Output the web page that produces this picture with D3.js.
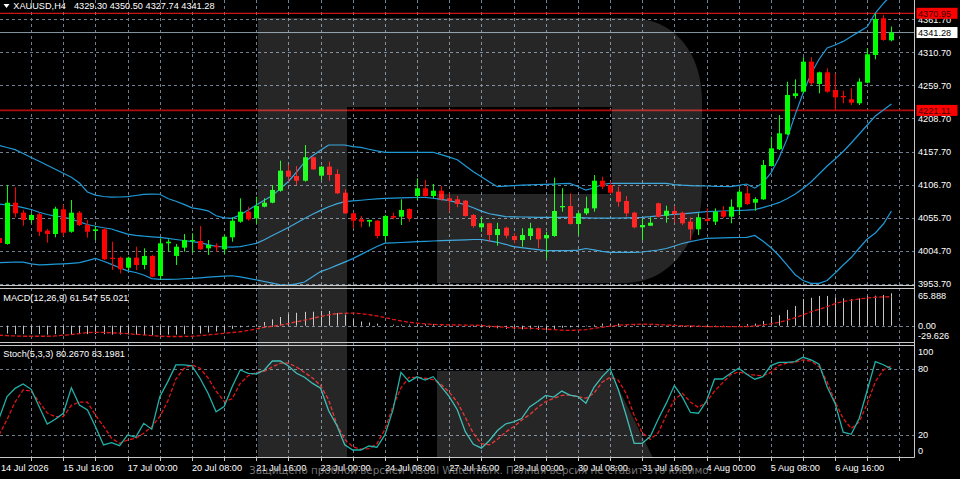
<!DOCTYPE html>
<html>
<head>
<meta charset="utf-8">
<script src="https://cdn.jsdelivr.net/npm/d3@7"></script>
<style>
  body { margin: 0; background: #000; }
  svg { display: block; }
  text { font-family: "Liberation Sans", Arial, sans-serif; font-size: 9.2px; fill: #fff; }
</style>
</head>
<body>
<svg id="chart" width="960" height="479"></svg>
<script>
// ——— XAUUSD H4 candles (112 bars, 14 Jul 08:00 .. 7 Aug) ———
const OPEN = [4024.2,4015.0,4078.7,4063.3,4052.0,4060.8,4035.5,4030.4,4068.5,4033.9,
  4063.3,4044.3,4035.0,4037.6,3993.8,3993.8,3978.4,3993.8,3982.6,3996.5,
  3965.6,4016.0,3996.5,4009.3,4019.6,4019.6,4008.3,4012.3,4006.8,4025.3,
  4049.4,4064.8,4054.6,4072.5,4078.7,4097.2,4128.1,4119.9,4112.6,4148.8,
  4120.4,4134.3,4123.0,4094.1,4062.3,4053.1,4049.4,4050.9,4027.3,4058.2,
  4057.1,4069.0,4089.0,4100.9,4089.0,4097.2,4085.5,4083.9,4081.8,4059.7,
  4040.7,4046.9,4028.8,4040.1,4027.3,4021.1,4027.3,4039.2,4023.7,4027.3,
  4071.6,4073.6,4045.8,4062.3,4070.0,4112.6,4106.0,4095.7,4081.3,4063.3,
  4040.7,4043.2,4077.8,4058.6,4065.9,4063.3,4049.4,4037.6,4053.5,4049.4,
  4065.9,4057.1,4071.6,4093.2,4078.7,4083.9,4135.3,4161.1,4184.2,4243.3,
  4250.0,4296.3,4261.9,4279.9,4252.6,4243.3,4238.3,4232.1,4263.9,4306.6,
  4363.3,4329.30];
const HIGH = [4028.9,4106.0,4102.5,4067.4,4062.3,4063.3,4038.1,4072.5,4075.1,4082.9,
  4065.9,4052.0,4042.7,4039.2,4018.5,3995.4,3995.4,4010.8,4008.3,3998.0,
  4023.7,4022.2,4015.0,4030.4,4031.5,4042.7,4021.1,4016.0,4028.8,4056.2,
  4085.5,4072.5,4088.0,4085.5,4106.0,4143.5,4136.9,4135.3,4167.7,4149.7,
  4135.3,4142.0,4130.2,4099.4,4063.3,4058.2,4052.5,4052.0,4059.7,4063.3,
  4083.9,4070.0,4116.3,4113.7,4107.5,4104.5,4093.2,4089.0,4082.9,4061.3,
  4056.2,4047.8,4047.8,4041.7,4031.5,4039.2,4047.8,4040.1,4033.9,4117.3,
  4100.9,4093.2,4064.8,4088.0,4121.4,4118.8,4111.1,4103.4,4089.0,4064.8,
  4054.6,4056.2,4078.7,4074.1,4073.6,4064.8,4056.2,4062.3,4070.0,4070.0,
  4073.6,4083.9,4099.4,4104.5,4087.0,4144.6,4180.5,4214.0,4265.4,4269.1,
  4303.1,4303.1,4280.9,4286.1,4278.4,4251.5,4255.2,4270.7,4317.0,4370.95,
  4368.4,4350.50];
const LOW = [4011.9,4014.0,4056.2,4043.2,4046.9,4027.3,4017.0,4025.3,4027.3,4032.4,
  4042.7,4024.7,4021.1,3990.3,3974.8,3969.7,3974.8,3974.8,3975.9,3963.5,
  3959.4,4003.1,3982.6,4003.1,4001.5,4006.0,3998.0,4003.1,3999.5,4018.5,
  4047.8,4050.9,4045.8,4071.6,4077.8,4095.7,4111.1,4106.0,4111.1,4129.2,
  4113.7,4112.6,4092.1,4061.5,4039.2,4040.7,4041.7,4023.7,4020.1,4053.1,
  4044.3,4049.4,4082.9,4088.0,4085.5,4081.8,4064.8,4071.6,4057.1,4040.1,
  4033.9,4018.5,4012.3,4023.7,4016.0,4010.8,4021.1,4008.3,3992.9,4026.2,
  4064.8,4045.0,4028.8,4059.7,4064.8,4099.4,4092.1,4072.5,4057.1,4039.2,
  4021.1,4042.7,4056.2,4047.8,4047.8,4044.3,4020.1,4028.8,4049.4,4044.3,
  4054.6,4046.9,4059.7,4075.1,4066.3,4082.9,4134.3,4160.0,4183.2,4239.8,
  4247.5,4260.3,4247.5,4248.4,4221.11,4232.1,4229.5,4229.5,4263.0,4300.0,
  4328.7,4327.74];
const CLOSE = [4016.5,4078.7,4062.3,4052.0,4059.7,4033.9,4030.4,4069.4,4032.4,4063.3,
  4044.3,4033.9,4037.6,3991.4,3991.8,3975.9,3993.8,3982.6,3996.5,3964.5,
  4016.0,4018.5,4010.8,4021.1,4021.1,4006.8,4013.4,4009.9,4026.2,4050.9,
  4064.8,4053.1,4073.6,4078.7,4098.3,4128.1,4118.8,4112.6,4148.8,4130.2,
  4134.3,4121.4,4093.2,4062.3,4050.9,4049.4,4052.0,4027.3,4058.2,4055.6,
  4067.4,4054.6,4100.9,4089.0,4097.2,4083.9,4081.3,4076.7,4058.2,4042.7,
  4046.9,4028.8,4038.1,4027.8,4021.1,4028.8,4039.2,4022.2,4028.8,4065.9,
  4073.6,4045.8,4062.3,4070.0,4112.6,4103.4,4094.1,4080.2,4062.3,4040.7,
  4044.3,4047.8,4057.1,4066.3,4061.3,4046.9,4037.6,4056.2,4050.5,4064.8,
  4057.1,4072.5,4095.7,4076.7,4084.4,4136.9,4162.6,4185.8,4244.9,4247.5,
  4296.3,4263.0,4279.9,4250.0,4241.3,4241.3,4233.0,4265.4,4307.7,4362.2,
  4329.8,4341.28];

// ——— Bollinger Bands ———
const BB_UPPER = [4167.0,4163.9,4160.6,4154.6,4148.4,4142.6,4136.4,4130.2,4124.1,4117.9,
  4109.1,4095.2,4090.3,4088.3,4087.2,4087.5,4088.1,4089.8,4091.5,4092.0,
  4091.7,4085.2,4080.9,4076.1,4070.8,4068.7,4066.2,4058.6,4055.4,4054.6,
  4059.9,4067.6,4075.1,4082.4,4089.6,4100.4,4111.4,4125.8,4141.2,4151.1,
  4159.7,4167.7,4167.7,4167.7,4165.1,4164.0,4161.2,4158.6,4156.5,4156.5,
  4156.5,4156.5,4156.5,4156.5,4156.5,4152.8,4149.1,4145.0,4135.8,4126.4,
  4118.7,4110.5,4103.4,4104.3,4105.1,4105.9,4106.3,4106.8,4107.1,4107.5,
  4108.0,4108.5,4103.7,4098.0,4101.4,4106.8,4108.6,4108.6,4108.6,4108.6,
  4108.6,4108.6,4108.6,4108.6,4106.6,4105.7,4105.1,4104.8,4104.5,4104.0,
  4103.7,4103.5,4105.4,4107.5,4101.1,4109.4,4124.2,4147.4,4176.4,4213.9,
  4247.5,4277.6,4300.1,4317.4,4322.1,4327.6,4335.2,4342.7,4350.3,4371.4,
  4386.1,4399.2];
const BB_MID = [4076.7,4075.1,4073.8,4071.1,4068.2,4063.9,4060.5,4057.9,4056.6,4053.5,
  4049.2,4045.0,4042.3,4040.0,4038.1,4034.1,4030.2,4028.2,4027.0,4026.1,
  4025.3,4023.6,4021.9,4020.4,4018.7,4017.0,4013.9,4011.4,4010.3,4010.2,
  4010.8,4013.4,4015.9,4021.6,4028.1,4034.2,4040.4,4047.4,4054.3,4060.8,
  4066.8,4072.5,4076.8,4080.4,4081.5,4082.5,4083.6,4084.7,4085.5,4085.8,
  4086.1,4086.6,4086.7,4087.0,4085.6,4083.9,4081.9,4078.8,4075.6,4071.0,
  4065.7,4061.6,4059.4,4057.2,4056.9,4056.6,4056.5,4056.2,4056.2,4056.2,
  4056.2,4056.2,4055.9,4055.4,4055.1,4054.8,4054.8,4055.1,4055.4,4055.7,
  4056.2,4057.2,4058.5,4059.7,4060.6,4061.6,4062.6,4063.7,4064.8,4065.4,
  4065.9,4066.3,4066.8,4067.1,4068.0,4071.1,4074.7,4078.7,4084.9,4091.7,
  4100.6,4110.6,4123.0,4135.3,4146.1,4157.7,4170.8,4184.7,4198.6,4212.5,
  4221.7,4231.0];
const BB_LOWER = [3986.1,3986.6,3987.2,3986.9,3984.2,3982.7,3983.2,3983.8,3984.4,3985.2,
  3986.1,3989.2,3992.6,3988.4,3983.6,3978.4,3973.6,3971.0,3967.1,3961.6,
  3960.5,3960.5,3960.6,3961.3,3961.9,3962.8,3963.9,3964.6,3965.3,3966.0,
  3964.2,3961.9,3959.6,3957.1,3954.6,3951.8,3951.5,3953.5,3956.3,3964.3,
  3972.4,3976.8,3981.9,3987.0,3992.4,3998.6,4004.9,4011.1,4016.2,4016.7,
  4017.3,4017.9,4018.5,4019.1,4019.6,4020.1,4020.5,4021.0,4021.4,4021.9,
  4021.9,4019.7,4017.6,4014.5,4010.8,4009.3,4007.9,4006.3,4004.8,4004.6,
  4004.6,4004.6,4005.4,4008.0,4006.0,4003.7,4002.1,4002.1,4002.1,4002.1,
  4002.6,4004.2,4005.7,4008.0,4011.9,4015.7,4018.5,4021.1,4023.7,4024.1,
  4024.4,4024.7,4025.0,4025.3,4028.1,4019.6,4009.6,3997.2,3982.6,3967.9,
  3958.6,3954.3,3954.3,3958.6,3970.2,3982.6,3994.1,4008.8,4022.7,4031.9,
  4045.8,4065.9];

// ——— MACD(12,26,9) ———
const MACD_MAIN = [-15,-15,-16,-16,-16,-16,-17,-16,-16,-16,
  -16,-16,-16,-16,-17,-17,-17,-17,-18,-18,
  -18,-17,-17,-16,-16,-15,-13,-11,-9,-6,
  -3,-1,1.5,7,12,16.5,22,24.5,26.3,26.5,
  28,28,24,21,12,8,6,4,3,2,
  2,2,3,3,3,2,1,0,-1,-2,
  -3,-4,-5,-6,-7,-7,-7,-8,-8,-6,
  -4,-3,-3,-1,2,4,4,4,3,1,
  -1,-2,-1,-1,-1,-2,-3,-2,-2,-1,
  -1,0,2,3,4,9,17,20,30,37.5,
  50.8,53,56.5,56.5,54,52,50.8,52,56.5,57,
  58.4,61.547];
const MACD_SIGNAL = [-18,-19,-19.5,-20,-20,-20,-20,-19.5,-18,-17,
  -15,-13,-12.5,-12.5,-13.5,-14,-15,-16.5,-17.5,-19,
  -20,-20.5,-20.5,-20.5,-20,-19,-17.5,-16,-14.5,-13,
  -11.5,-9,-6,-3,-1,1,4,7.5,10.5,14,
  17.5,20.5,23,23.5,24,23,21,18.5,15.5,12,
  9,6.5,5,3.5,2.5,2,1.5,1.3,1,1,
  0.5,-1,-2,-3,-4,-4.5,-5,-5.5,-6.5,-7.5,
  -8.5,-9,-8.5,-7.5,-5,-3,-1,1,2,2.5,
  3,2.6,2,1.3,0.5,0,-0.5,-1,-1.5,-1.9,
  -1.9,-1.9,-1.9,-1.5,-0.5,1.3,3.5,6.4,10.5,15.2,
  20.5,26.6,31,36,42,46,48.5,50.8,52.5,54,
  54.8,55.021];

// ——— Stochastic(5,3,3) ———
const STOCH_K = [35,55,62.5,66.5,61.6,45.8,30,34.3,39.8,63.1,
  47.3,42.8,27.5,10.9,13,10.2,20,17.9,30.6,25.2,
  54.9,68.6,83.8,83.8,82.9,71.7,58,41.2,45.8,64,
  79.2,76.2,75.6,79.2,87.4,87.4,82.9,76.2,72.6,67,
  62.6,42,29,11,6.3,6.3,9.9,8.8,20,42.8,
  77,68.6,73,70.1,73.1,64,55,43,23,11.5,
  8,15,24,30,32,35,45.5,50.5,56,54.5,
  60,56.4,55,49,63.5,73,80.5,62,38,12.4,
  12.4,18.5,34.5,49,65,54.5,40.5,39.8,51,71,
  71,76.2,80.8,75.3,70.8,73.1,83.2,86.2,86.2,86.8,
  90.8,88.4,84.5,64,48.5,22.5,20.6,35.2,61,86.8,
  84,80.267];
const STOCH_D = [20,34,50,61,60,50,40,36.7,36.7,47,
  50,50,38,28,17,12.4,15.4,17,21.5,27.5,
  36.7,51,71,80.5,83.8,80.8,72,60,50.5,53,
  67,74,77,78,82,85.5,85.5,82,77,72,
  65,52,30,16,9.3,7,7.5,12,25,46,
  63,72.5,72.5,71.7,70.5,66,59,50,36,21.5,
  12,11,16,22.5,27.5,33.5,38.5,45,50.5,53.4,
  56,56.4,55,53.4,58,68,72.5,70,58,38,
  22,16,22,38,52,58,50,45,50,60,
  67.5,75,77.5,75.5,74.5,74,77,83.5,85.5,86.2,
  88.4,87.4,82.2,68.6,50,35,26,32,49,68.6,
  79.2,83.1981];

// ——— Axis labels ———
const TIME_LABELS = ['14 Jul 2026','15 Jul 16:00','17 Jul 00:00','20 Jul 08:00','21 Jul 16:00',
  '23 Jul 00:00','24 Jul 08:00','27 Jul 16:00','29 Jul 00:00','30 Jul 08:00',
  '31 Jul 16:00','4 Aug 00:00','5 Aug 08:00','6 Aug 16:00'];
const PRICE_TICKS = [4361.70,4310.70,4259.70,4208.70,4157.70,4106.70,4055.70,4004.70,3953.70];
const MACD_TICKS = [65.888, 0.00, -29.626];
const STOCH_TICKS = [100, 80, 20, 0];
const STOCH_LEVELS = [80, 20];
const LAST = { bid: 4341.28, hi: 4370.95, lo: 4221.11 };

const svg = d3.select('#chart');
const PLOT_R = 914;
const BAR_STEP = 8.04;
const N = CLOSE.length;

const x = d3.scaleLinear().domain([0, 112]).range([-1, -1 + BAR_STEP * 112]);
const yMain = d3.scaleLinear().domain([3953.7, 4361.7]).range([283.7, 19.3]);
const yMacd = d3.scaleLinear().domain([-29.626, 65.888]).range([341.3, 291]);
const yStoch = d3.scaleLinear().domain([0, 100]).range([456.9, 347.2]);
const cx = i => Math.round(x(i));

svg.append('rect').attr('width', 960).attr('height', 479).attr('fill', '#000');

// ——— clip paths per panel ———
const defs = svg.append('defs');
[['clipMain', 0, 286], ['clipMacd', 289, 342], ['clipStoch', 345.5, 457]].forEach(([id, y0, y1]) => {
  defs.append('clipPath').attr('id', id)
    .append('rect').attr('x', 0).attr('y', y0).attr('width', PLOT_R).attr('height', y1 - y0);
});

// ——— grid ———
const grid = svg.append('g').attr('stroke', '#6f7f8f').attr('stroke-dasharray', '3,3').attr('stroke-width', 1);
d3.range(4, 113, 4).forEach(b => {
  grid.append('line').attr('x1', cx(b) + 0.5).attr('x2', cx(b) + 0.5).attr('y1', 0).attr('y2', 457);
});
PRICE_TICKS.forEach(p => {
  const yy = Math.round(yMain(p)) + 0.5;
  grid.append('line').attr('x1', 0).attr('x2', PLOT_R).attr('y1', yy).attr('y2', yy);
});
grid.append('line').attr('x1', 0).attr('x2', PLOT_R)
  .attr('y1', Math.round(yMacd(0)) + 0.5).attr('y2', Math.round(yMacd(0)) + 0.5);
STOCH_LEVELS.forEach(v => {
  const yy = Math.round(yStoch(v)) + 0.5;
  grid.append('line').attr('x1', 0).attr('x2', PLOT_R).attr('y1', yy).attr('y2', yy);
});

// ——— main panel ———
const main = svg.append('g').attr('clip-path', 'url(#clipMain)');

// horizontal levels
main.append('line').attr('x1', 0).attr('x2', PLOT_R)
  .attr('y1', yMain(LAST.hi)).attr('y2', yMain(LAST.hi)).attr('stroke', '#ff1a1a').attr('stroke-width', 1);
main.append('line').attr('x1', 0).attr('x2', PLOT_R)
  .attr('y1', yMain(LAST.lo)).attr('y2', yMain(LAST.lo)).attr('stroke', '#b00c0c').attr('stroke-width', 1.6);
main.append('line').attr('x1', 0).attr('x2', PLOT_R)
  .attr('y1', yMain(LAST.bid)).attr('y2', yMain(LAST.bid)).attr('stroke', '#8795a3').attr('stroke-width', 1);

// bollinger bands
const bandLine = d3.line().x((d, i) => x(i)).y(d => yMain(d));
[BB_UPPER, BB_MID, BB_LOWER].forEach(arr => {
  main.append('path').datum(arr).attr('d', bandLine)
    .attr('fill', 'none').attr('stroke', '#1f9ad8').attr('stroke-width', 1.2);
});

// candles
const bars = d3.range(N);
const up = i => CLOSE[i] >= OPEN[i];
const candle = main.append('g').selectAll('g').data(bars).join('g');
candle.append('line')
  .attr('x1', i => cx(i) + 0.5).attr('x2', i => cx(i) + 0.5)
  .attr('y1', i => yMain(HIGH[i])).attr('y2', i => yMain(LOW[i]))
  .attr('stroke', i => up(i) ? '#00ff00' : '#ff0000').attr('stroke-width', 1);
candle.append('rect')
  .attr('x', i => cx(i) - 2).attr('width', 5)
  .attr('y', i => yMain(Math.max(OPEN[i], CLOSE[i])))
  .attr('height', i => Math.max(1.2, Math.abs(yMain(OPEN[i]) - yMain(CLOSE[i]))))
  .attr('fill', i => up(i) ? '#00ff00' : '#ff0000');

// ——— MACD panel ———
const macd = svg.append('g').attr('clip-path', 'url(#clipMacd)');
macd.selectAll('line.hist').data(bars).join('line').attr('class', 'hist')
  .attr('x1', i => cx(i) + 0.5).attr('x2', i => cx(i) + 0.5)
  .attr('y1', yMacd(0)).attr('y2', i => yMacd(MACD_MAIN[i]))
  .attr('stroke', '#c4c4c4').attr('stroke-width', 1);
macd.append('path').datum(MACD_SIGNAL)
  .attr('d', d3.line().x((d, i) => x(i)).y(d => yMacd(d)))
  .attr('fill', 'none').attr('stroke', '#e31414').attr('stroke-width', 1.3).attr('stroke-dasharray', '4,2');

// ——— Stochastic panel ———
const stoch = svg.append('g').attr('clip-path', 'url(#clipStoch)');
const stochLine = d3.line().x((d, i) => x(i)).y(d => yStoch(d));
stoch.append('path').datum(STOCH_D).attr('d', stochLine)
  .attr('fill', 'none').attr('stroke', '#e31414').attr('stroke-width', 1.3).attr('stroke-dasharray', '4,2');
stoch.append('path').datum(STOCH_K).attr('d', stochLine)
  .attr('fill', 'none').attr('stroke', '#20b2aa').attr('stroke-width', 1.3);

// ——— watermark logo ———
svg.append('path')
  .attr('d', 'M258,18 L630,18 C676,18 702,55 702,100 L702,190 C702,240 670,283 625,283 L437,283 L437,194 L612,194 L612,107 L347,107 L347,458 L258,458 Z M437,371 L610,371 L653,458 L437,458 Z')
  .attr('fill', '#fff').attr('fill-opacity', 0.15);

// ——— panel frames ———
const frame = svg.append('g').attr('stroke', '#c8c8c8').attr('stroke-width', 1);
[285.5, 288.5, 342.5, 345.5].forEach(yy => {
  frame.append('line').attr('x1', 0).attr('x2', PLOT_R).attr('y1', yy).attr('y2', yy);
});
frame.append('line').attr('x1', 0).attr('x2', PLOT_R + 0.5).attr('y1', 457.5).attr('y2', 457.5);
frame.append('line').attr('x1', PLOT_R + 0.5).attr('x2', PLOT_R + 0.5).attr('y1', 0).attr('y2', 457.5);
d3.range(0, 113, 4).forEach(b => {
  frame.append('line').attr('x1', cx(b) + 0.5).attr('x2', cx(b) + 0.5).attr('y1', 457.5).attr('y2', 461);
});

// ——— texts ———
svg.append('path').attr('d', 'M3.5,4 L9.5,4 L6.5,8 Z').attr('fill', '#fff');
svg.append('text').attr('x', 13.3).attr('y', 9).text('XAUUSD,H4');
svg.append('text').attr('x', 74).attr('y', 9)
  .text([OPEN[N - 1], HIGH[N - 1], LOW[N - 1], CLOSE[N - 1]].map(v => v.toFixed(2)).join(' '));
svg.append('text').attr('x', 3.3).attr('y', 301)
  .text(`MACD(12,26,9) ${MACD_MAIN[N - 1].toFixed(3)} ${MACD_SIGNAL[N - 1].toFixed(3)}`);
svg.append('text').attr('x', 3.3).attr('y', 357)
  .text(`Stoch(5,3,3) ${STOCH_K[N - 1].toFixed(4)} ${STOCH_D[N - 1].toFixed(4)}`);

// price axis
const axisG = svg.append('g');
PRICE_TICKS.forEach(p => {
  axisG.append('text').attr('x', 918).attr('y', yMain(p) + 3.3).text(p.toFixed(2));
});
MACD_TICKS.forEach(v => {
  const yy = Math.min(339, Math.max(299, yMacd(v) + 3.3));
  axisG.append('text').attr('x', 918).attr('y', yy).text(v === 0 ? '0.00' : v.toFixed(3));
});
STOCH_TICKS.forEach(v => {
  const yy = Math.min(454, Math.max(355, yStoch(v) + 3.3));
  axisG.append('text').attr('x', 918).attr('y', yy).text(v);
});

// price boxes on right axis
function priceBox(val, fill, color) {
  const yy = yMain(val);
  axisG.append('rect').attr('x', 916.5).attr('y', yy - 5.5).attr('width', 41).attr('height', 11).attr('fill', fill);
  axisG.append('text').attr('x', 918).attr('y', yy + 3.3).style('fill', color).text(val.toFixed(2));
}
priceBox(LAST.hi, '#ff0000', '#3a0000');
priceBox(LAST.lo, '#ff0000', '#3a0000');
priceBox(LAST.bid, '#ffffff', '#000000');

// time axis
TIME_LABELS.forEach((t, k) => {
  svg.append('text').attr('x', Math.max(1, x(k * 8))).attr('y', 470.5).text(t);
});

// watermark caption
svg.append('text').attr('x', 249).attr('y', 473.5)
  .attr('textLength', 463).attr('lengthAdjust', 'spacingAndGlyphs')
  .style('font-family', '"DejaVu Sans", sans-serif').style('font-size', '10px')
  .style('fill', '#9a9a9a').style('fill-opacity', 0.75)
  .text('Защищено пробной версией Visual Watermark. Полная версия не ставит это клеймо.');
</script>
</body>
</html>
